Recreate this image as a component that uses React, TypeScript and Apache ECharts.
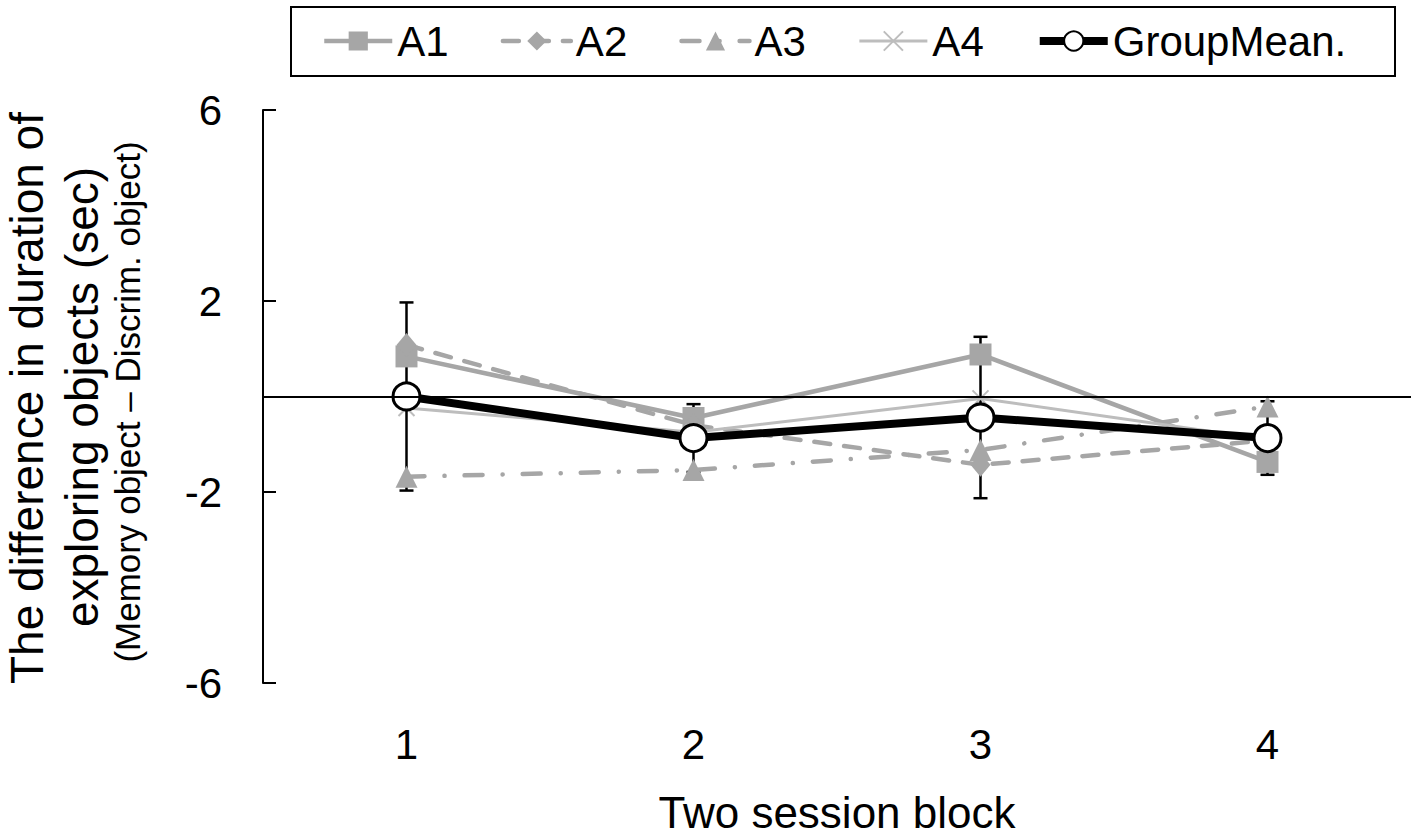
import React, { useEffect, useRef } from "react";
import * as echarts from "echarts";

const categories = ["1", "2", "3", "4"];
const a1 = [0.84, -0.45, 0.88, -1.37];
const a2 = [1.08, -0.6, -1.43, -0.92];
const a3 = [-1.68, -1.54, -1.12, -0.21];
const a4 = [-0.24, -0.75, -0.04, -0.9];
const groupMean = [0.0, -0.87, -0.44, -0.87];
const groupErr = [1.97, 0.71, 1.69, 0.77];
const yTicks = [-6, -2, 2, 6];
const seriesNames = ["A1", "A2", "A3", "A4", "GroupMean."];

const FONT = "Liberation Sans, Arial, sans-serif";
const GRAY = "#a6a6a6";
const LIGHT = "#bdbdbd";

export default function App() {
  const ref = useRef<HTMLDivElement>(null);
  useEffect(() => {
    if (!ref.current) return;
    const chart = echarts.init(ref.current, null, { renderer: "svg" });
    const option: any = {
      animation: false,
      backgroundColor: "#fff",
      textStyle: { fontFamily: FONT, color: "#000" },
      grid: { left: 263, right: 6, top: 110, bottom: 157 },
      legend: {
        data: seriesNames,
        left: 322,
        top: 20,
        padding: 0,
        itemWidth: 68,
        itemHeight: 24,
        itemGap: 52,
        textStyle: { fontSize: 42, fontFamily: FONT, color: "#000", lineHeight: 42 },
        lineStyle: { width: "inherit" },
      },
      xAxis: {
        type: "category",
        data: categories,
        boundaryGap: true,
        axisLine: { show: false },
        axisTick: { show: false },
        axisLabel: { fontSize: 42, fontFamily: FONT, color: "#000", margin: 40 },
        name: "Two session block",
        nameLocation: "middle",
        nameGap: 107,
        nameTextStyle: { fontSize: 44, fontFamily: FONT, color: "#000" },
      },
      yAxis: {
        type: "value",
        min: -6,
        max: 6,
        splitLine: { show: false },
        axisLine: { show: true, lineStyle: { color: "#000", width: 2 } },
        axisTick: {
          show: true,
          inside: true,
          length: 13,
          lineStyle: { color: "#000", width: 2 },
          customValues: yTicks,
        },
        axisLabel: {
          fontSize: 42,
          fontFamily: FONT,
          color: "#000",
          margin: 41,
          customValues: yTicks,
        },
      },
      graphic: [
        {
          type: "rect",
          shape: { x: 291, y: 7, width: 1104, height: 69 },
          style: { fill: "none", stroke: "#000", lineWidth: 2 },
          z: 10,
        },
        {
          type: "text",
          x: 27,
          y: 398,
          rotation: Math.PI / 2,
          style: {
            text: "The difference in duration of",
            font: `46px ${FONT}`,
            lineHeight: 46,
            fill: "#000",
            align: "center",
            verticalAlign: "middle",
            textAlign: "center",
            textVerticalAlign: "middle",
          },
        },
        {
          type: "text",
          x: 82,
          y: 397,
          rotation: Math.PI / 2,
          style: {
            text: "exploring objects (sec)",
            font: `46px ${FONT}`,
            lineHeight: 46,
            fill: "#000",
            align: "center",
            verticalAlign: "middle",
            textAlign: "center",
            textVerticalAlign: "middle",
          },
        },
        {
          type: "text",
          x: 127,
          y: 402,
          rotation: Math.PI / 2,
          style: {
            text: "(Memory object \u2013 Discrim. object)",
            font: `35px ${FONT}`,
            lineHeight: 35,
            fill: "#000",
            align: "center",
            verticalAlign: "middle",
            textAlign: "center",
            textVerticalAlign: "middle",
          },
        },
      ],
      series: [
        {
          name: "err",
          type: "custom",
          z: 1,
          encode: { x: 0, y: 1 },
          data: categories.map((_, i) => [i, groupMean[i], groupErr[i]]),
          renderItem: (params: any, api: any) => {
            const x = api.value(0);
            const m = api.value(1);
            const e = api.value(2);
            const top = api.coord([x, m + e]);
            const bot = api.coord([x, m - e]);
            const hw = 7;
            const st = { stroke: "#000", lineWidth: 2.5 };
            return {
              type: "group",
              children: [
                { type: "line", shape: { x1: top[0], y1: top[1], x2: bot[0], y2: bot[1] }, style: st },
                { type: "line", shape: { x1: top[0] - hw, y1: top[1], x2: top[0] + hw, y2: top[1] }, style: st },
                { type: "line", shape: { x1: bot[0] - hw, y1: bot[1], x2: bot[0] + hw, y2: bot[1] }, style: st },
              ],
            };
          },
          markLine: {
            silent: true,
            symbol: "none",
            label: { show: false },
            lineStyle: { color: "#000", width: 2, type: "solid" },
            data: [{ yAxis: 0 }],
          },
        },
        {
          name: "A1",
          type: "line",
          z: 2,
          data: a1,
          symbol: "rect",
          symbolSize: 22,
          itemStyle: { color: GRAY },
          lineStyle: { color: GRAY, width: 4.5 },
        },
        {
          name: "A2",
          type: "line",
          z: 2,
          data: a2,
          symbol: "diamond",
          symbolSize: [20, 24],
          itemStyle: { color: GRAY },
          lineStyle: { color: GRAY, width: 4.5, type: [16, 14], cap: "round" },
        },
        {
          name: "A3",
          type: "line",
          z: 2,
          data: a3,
          symbol: "triangle",
          symbolSize: 22,
          itemStyle: { color: GRAY },
          lineStyle: { color: GRAY, width: 4.5, type: [18, 20, 0.1, 20], cap: "round" },
        },
        {
          name: "A4",
          type: "line",
          z: 2,
          data: a4,
          symbol: "path://M0,0L10,10M10,0L0,10",
          symbolSize: 16,
          itemStyle: { color: LIGHT, borderColor: LIGHT, borderWidth: 2 },
          lineStyle: { color: LIGHT, width: 3 },
        },
        {
          name: "GroupMean.",
          type: "line",
          z: 3,
          data: groupMean,
          symbol: "circle",
          symbolSize: 27,
          itemStyle: { color: "#fff", borderColor: "#000", borderWidth: 3 },
          lineStyle: { color: "#000", width: 8 },
        },
      ],
    };
    chart.setOption(option);
    return () => chart.dispose();
  }, []);
  return (
    <div
      ref={ref}
      style={{ position: "fixed", left: 0, top: 0, width: 1417, height: 840, background: "#fff" }}
    />
  );
}
